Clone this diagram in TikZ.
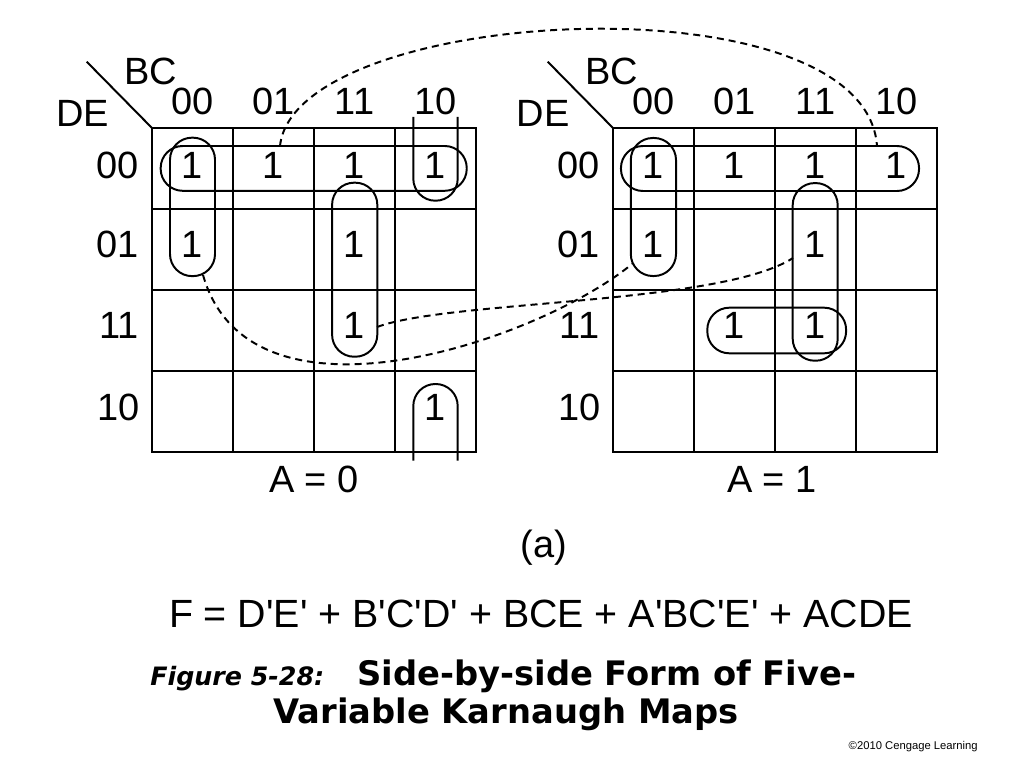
\documentclass[tikz,border=0pt]{standalone}
\usepackage{fontspec}
\setmainfont{Liberation Sans}
\newfontfamily\titlefont{DejaVu Sans}
\usetikzlibrary{positioning}
\newcommand{\apos}{\textquotesingle}

\begin{document}
\begin{tikzpicture}[x=0.025cm, y=-0.025cm,
    maplabel/.style={font=\fontsize{27}{30}\selectfont, inner sep=0pt},
    entry/.style={font=\fontsize{27}{30}\selectfont, inner sep=0pt},
    mapline/.style={line width=2.1pt},
    loopbox/.style={draw, line width=1.4pt, rounded corners=0.55cm, inner sep=0pt},
    loopline/.style={line width=1.4pt, rounded corners=0.55cm},
    link/.style={line width=1.4pt, dash pattern=on 5pt off 3.5pt}
]
\path[fill=white, use as bounding box] (0,0) rectangle (1024,768);

% Map for A = 0
\draw[mapline] (152,128) rectangle (476,452);
\draw[mapline] (233,128) -- (233,452);
\draw[mapline] (314,128) -- (314,452);
\draw[mapline] (395,128) -- (395,452);
\draw[mapline] (152,209) -- (476,209);
\draw[mapline] (152,290) -- (476,290);
\draw[mapline] (152,371) -- (476,371);
\draw[line width=1.4pt] (86.7,61.7) -- (152,128);

\node[maplabel] (bcL) at (151,71.5) {BC};
\node[maplabel] (deL) at (82.5,113.5) {DE};
\node[maplabel] (cL00) at (192.5,101) {00};
\node[maplabel] (cL01) at (273.5,101) {01};
\node[maplabel] (cL11) at (354.5,101) {11};
\node[maplabel] (cL10) at (435.5,101) {10};
\node[maplabel] (rL00) at (118,165) {00};
\node[maplabel] (rL01) at (118,244) {01};
\node[maplabel] (rL11) at (119,325) {11};
\node[maplabel] (rL10) at (119,407) {10};

\node[entry] (L00-00) at (192.5,165) {1};
\node[entry] (L00-01) at (273.5,165) {1};
\node[entry] (L00-11) at (354.5,165) {1};
\node[entry] (L00-10) at (435.5,165) {1};
\node[entry] (L01-00) at (192.5,244) {1};
\node[entry] (L01-11) at (354.5,244) {1};
\node[entry] (L11-11) at (354.5,325) {1};
\node[entry] (L10-10) at (435.5,407) {1};

% loops, A = 0
\node[loopbox, minimum width=7.65cm, minimum height=1.12cm] (gLrow) at (313.7,168.4) {};
\node[loopbox, minimum width=1.125cm, minimum height=3.46cm] (gLcol) at (192.5,206.9) {};
\node[loopbox, minimum width=1.13cm, minimum height=4.35cm] (gLmid) at (354.7,269.7) {};
\draw[loopline] (413.3,117) -- (413.3,200.7) -- (457.7,200.7) -- (457.7,117);
\draw[loopline] (413.3,460.7) -- (413.3,384) -- (457.7,384) -- (457.7,460.7);

\node[maplabel] (aL) at (314,479) {A = 0};

% Map for A = 1
\draw[mapline] (613,128) rectangle (937,452);
\draw[mapline] (694,128) -- (694,452);
\draw[mapline] (775,128) -- (775,452);
\draw[mapline] (856,128) -- (856,452);
\draw[mapline] (613,209) -- (937,209);
\draw[mapline] (613,290) -- (937,290);
\draw[mapline] (613,371) -- (937,371);
\draw[line width=1.4pt] (547.7,61.7) -- (613,128);

\node[maplabel] (bcR) at (612,71.5) {BC};
\node[maplabel] (deR) at (543,113.5) {DE};
\node[maplabel] (cR00) at (653.5,101) {00};
\node[maplabel] (cR01) at (734.5,101) {01};
\node[maplabel] (cR11) at (815.5,101) {11};
\node[maplabel] (cR10) at (896.5,101) {10};
\node[maplabel] (rR00) at (578.5,165) {00};
\node[maplabel] (rR01) at (578.5,244) {01};
\node[maplabel] (rR11) at (579.5,325) {11};
\node[maplabel] (rR10) at (579.5,407) {10};

\node[entry] (R00-00) at (653.5,165) {1};
\node[entry] (R00-01) at (734.5,165) {1};
\node[entry] (R00-11) at (815.5,165) {1};
\node[entry] (R00-10) at (896.5,165) {1};
\node[entry] (R01-00) at (653.5,244) {1};
\node[entry] (R01-11) at (815.5,244) {1};
\node[entry] (R11-01) at (734.5,325) {1};
\node[entry] (R11-11) at (815.5,325) {1};

% loops, A = 1
\node[loopbox, minimum width=7.45cm, minimum height=1.125cm] (gRrow) at (770,168.5) {};
\node[loopbox, minimum width=1.13cm, minimum height=3.45cm] (gRcol) at (653.4,207) {};
\node[loopbox, minimum width=1.125cm, minimum height=4.44cm] (gRmid) at (815.2,271.9) {};
\node[loopbox, minimum width=3.47cm, minimum height=1.14cm] (gRbot) at (776.7,330.5) {};

\node[maplabel] (aR) at (772,479) {A = 1};

% dashed links between the two maps
\coordinate (rowL-top) at (280,146);
\coordinate (rowR-top) at (877,146);
\coordinate (colL-foot) at (203,275);
\coordinate (colR-foot) at (632,264);
\coordinate (midL-side) at (377,327);
\coordinate (midR-side) at (793,258);
\draw[link] (rowL-top) .. controls (295,5) and (865,-25) .. (rowR-top);
\draw[link] (colL-foot) .. controls (250,440) and (540,340) .. (colR-foot);
\draw[link] (midL-side) .. controls (450,300) and (720,305) .. (midR-side);

% caption
\node[maplabel] (sub) at (544,548) {(a)};
\node[font=\fontsize{28}{32}\selectfont, inner sep=0pt] (eqn) at (541,614)
  {F = D\apos E\apos\ + B\apos C\apos D\apos\ + BCE + A\apos BC\apos E\apos\ + ACDE};
\node[font=\titlefont\bfseries\itshape\fontsize{18}{21}\selectfont, inner sep=0pt, anchor=base west] (fig) at (150,685) {Figure 5-28:};
\node[font=\titlefont\bfseries\fontsize{24}{28}\selectfont, inner sep=0pt, anchor=base west] (title1) at (357,685) {Side-by-side Form of Five-};
\node[font=\titlefont\bfseries\fontsize{24}{28}\selectfont, inner sep=0pt, anchor=base west] (title2) at (273,723) {Variable Karnaugh Maps};
\node[font=\fontsize{8}{10}\selectfont, inner sep=0pt, anchor=base east] (copy) at (978,749) {\textcopyright 2010 Cengage Learning};

\end{tikzpicture}
\end{document}
